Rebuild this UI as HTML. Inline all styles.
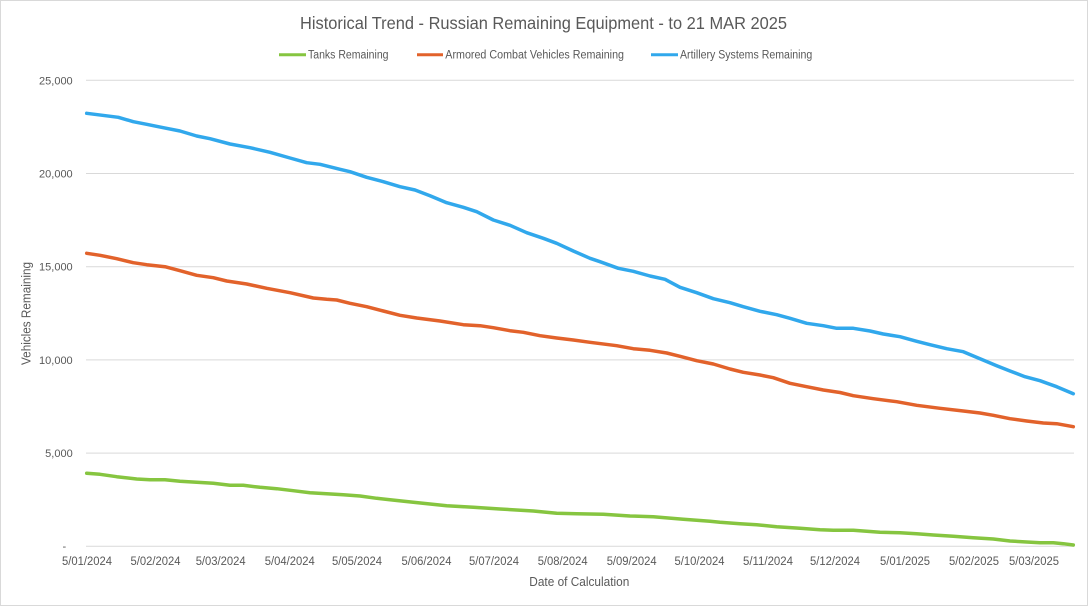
<!DOCTYPE html>
<html>
<head>
<meta charset="utf-8">
<style>
  html, body { margin: 0; padding: 0; background: #ffffff; }
  body { width: 1088px; height: 606px; overflow: hidden; }
  svg { display: block; }
  text { font-family: "Liberation Sans", Arial, sans-serif; fill: #595959; }
</style>
</head>
<body>
<svg width="1088" height="606" viewBox="0 0 1088 606" xmlns="http://www.w3.org/2000/svg">
  <rect x="0.5" y="0.5" width="1087" height="605" fill="#ffffff" stroke="#d9d9d9" stroke-width="1"/>

  <!-- Title -->
  <text x="300" y="29" font-size="17.5" textLength="487" lengthAdjust="spacingAndGlyphs">Historical Trend - Russian Remaining Equipment - to 21 MAR 2025</text>

  <!-- Legend -->
  <line x1="279" y1="54.7" x2="306" y2="54.7" stroke="#86C540" stroke-width="3"/>
  <text x="308" y="58.3" font-size="11.5" textLength="80.5" lengthAdjust="spacingAndGlyphs">Tanks Remaining</text>
  <line x1="417" y1="54.7" x2="443" y2="54.7" stroke="#E2622B" stroke-width="3"/>
  <text x="445.3" y="58.3" font-size="11.5" textLength="178.7" lengthAdjust="spacingAndGlyphs">Armored Combat Vehicles Remaining</text>
  <line x1="651" y1="54.7" x2="678" y2="54.7" stroke="#31A8EC" stroke-width="3"/>
  <text x="680" y="58.3" font-size="11.5" textLength="132.3" lengthAdjust="spacingAndGlyphs">Artillery Systems Remaining</text>

  <!-- Gridlines -->
  <g stroke="#d9d9d9" stroke-width="1">
    <line x1="86" y1="80.3" x2="1074" y2="80.3"/>
    <line x1="86" y1="173.5" x2="1074" y2="173.5"/>
    <line x1="86" y1="266.7" x2="1074" y2="266.7"/>
    <line x1="86" y1="359.9" x2="1074" y2="359.9"/>
    <line x1="86" y1="453.1" x2="1074" y2="453.1"/>
    <line x1="86" y1="546.3" x2="1074" y2="546.3"/>
  </g>

  <!-- Y tick labels -->
  <g font-size="11" text-anchor="end">
    <text x="72.7" y="84.3">25,000</text>
    <text x="72.7" y="177.5">20,000</text>
    <text x="72.7" y="270.7">15,000</text>
    <text x="72.7" y="363.9">10,000</text>
    <text x="72.7" y="457.1">5,000</text>
  </g>
  <text x="64.3" y="550" font-size="11" text-anchor="middle">-</text>

  <!-- X tick labels -->
  <g font-size="11.5" text-anchor="middle">
    <text x="87" y="565" textLength="50" lengthAdjust="spacingAndGlyphs">5/01/2024</text>
    <text x="155.5" y="565" textLength="50" lengthAdjust="spacingAndGlyphs">5/02/2024</text>
    <text x="220.7" y="565" textLength="50" lengthAdjust="spacingAndGlyphs">5/03/2024</text>
    <text x="289.8" y="565" textLength="50" lengthAdjust="spacingAndGlyphs">5/04/2024</text>
    <text x="357" y="565" textLength="50" lengthAdjust="spacingAndGlyphs">5/05/2024</text>
    <text x="426.5" y="565" textLength="50" lengthAdjust="spacingAndGlyphs">5/06/2024</text>
    <text x="494" y="565" textLength="50" lengthAdjust="spacingAndGlyphs">5/07/2024</text>
    <text x="562.7" y="565" textLength="50" lengthAdjust="spacingAndGlyphs">5/08/2024</text>
    <text x="631.7" y="565" textLength="50" lengthAdjust="spacingAndGlyphs">5/09/2024</text>
    <text x="699.5" y="565" textLength="50" lengthAdjust="spacingAndGlyphs">5/10/2024</text>
    <text x="768" y="565" textLength="50" lengthAdjust="spacingAndGlyphs">5/11/2024</text>
    <text x="835" y="565" textLength="50" lengthAdjust="spacingAndGlyphs">5/12/2024</text>
    <text x="905" y="565" textLength="50" lengthAdjust="spacingAndGlyphs">5/01/2025</text>
    <text x="974" y="565" textLength="50" lengthAdjust="spacingAndGlyphs">5/02/2025</text>
    <text x="1034" y="565" textLength="50" lengthAdjust="spacingAndGlyphs">5/03/2025</text>
  </g>

  <!-- Axis titles -->
  <text x="579.3" y="586" font-size="12.5" text-anchor="middle" textLength="100" lengthAdjust="spacingAndGlyphs">Date of Calculation</text>
  <text transform="translate(30.5,313.5) rotate(-90)" x="0" y="0" font-size="12.5" text-anchor="middle" textLength="103" lengthAdjust="spacingAndGlyphs">Vehicles Remaining</text>

  <!-- Series -->
  <g fill="none" stroke-width="3.5" stroke-linejoin="round" stroke-linecap="round">
    <polyline stroke="#31A8EC" points="86.7,113.3 118.3,117.3 133.3,121.7 146.7,124.3 163.3,127.7 180,131 196.7,136 210,138.7 230,144 250,147.7 270,152.3 290,158 306.7,162.7 320,164.3 340,169.3 350,171.7 366.7,177.3 383.3,181.7 400,186.7 415,190 430,195.7 446.7,202.7 463.3,207.3 476.7,211.7 493.3,220 510,225.3 526.7,232.7 543.3,238.3 556.7,243.3 573.3,251 590,258.3 600,261.7 618.3,268.3 633.3,271.3 650,276 665,279.3 680,287.3 696.7,292.7 713.3,298.7 730,302.7 743.3,306.7 760,311.3 776.7,314.7 790,318.3 806.7,323.3 823.3,325.7 836.7,328.3 853.3,328.3 870,331 883.3,334 900,336.7 916.7,341.3 930,344.7 946.7,348.7 963.3,351.7 980,358.7 996.7,365.7 1010,371 1025,376.7 1040,380.7 1056.7,386.7 1073.3,393.7"/>
    <polyline stroke="#E2622B" points="86.7,253.3 100,255.3 116.7,258.7 133.3,262.7 146.7,264.7 165,266.7 180,270.7 196.7,275.3 213.3,277.7 226.7,281 246.7,284 266.7,288.3 290,292.7 313.3,298 326.7,299.3 336.7,300 350,303.3 366.7,306.7 383.3,311 400,315.3 416.7,318 440,321 463.3,324.7 480,325.7 493.3,327.7 510,330.7 523.3,332.3 540,335.7 556.7,338 573.3,340 590,342.3 616.7,345.7 633.3,348.7 650,350.3 666.7,353 680,356.3 696.7,360.7 713.3,364 730,369 743.3,372.3 760,375 773.3,377.7 790,383.3 806.7,386.7 823.3,390 840,392.5 853.3,395.7 873.3,398.7 896.7,401.7 916.7,405.3 940,408.3 963.3,411 980,413 993.3,415.3 1010,418.7 1026.7,421 1043.3,423 1056.7,423.7 1073.3,426.7"/>
    <polyline stroke="#86C540" points="86.7,473.3 100,474.3 116.7,476.7 136.7,479 150,479.7 165,479.7 180,481.3 196.7,482.3 213.3,483.3 230,485.3 243.3,485.3 260,487.3 276.7,488.7 293.3,490.7 310,492.7 326.7,493.7 343.3,494.7 360,496 376.7,498.3 390,499.8 413.3,502.3 446.7,505.7 473.3,507.3 500,509 533.3,511 556.7,513.3 576.7,513.7 603.3,514.3 630,516 653.3,516.7 683.3,519.3 710,521.3 720,522.3 740,523.7 756.7,524.7 776.7,526.7 800,528.3 820,529.7 833.3,530.3 853.3,530.3 880,532.3 900,532.7 916.7,533.7 933.3,535 953.3,536.3 973.3,537.7 993.3,539 1010,541 1026.7,542 1040,542.7 1053.3,542.7 1063.3,543.7 1073.3,545"/>
  </g>
</svg>
</body>
</html>
